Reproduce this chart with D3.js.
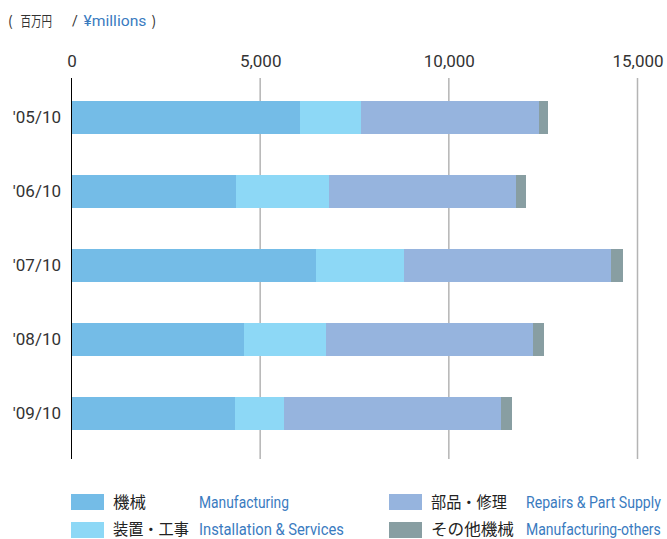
<!DOCTYPE html>
<html><head><meta charset="utf-8">
<script src="https://cdn.jsdelivr.net/npm/d3@7"></script>
<style>
html,body{margin:0;padding:0;background:#fff;}
svg{display:block;}
</style></head>
<body>
<svg id="chart" width="667" height="539"></svg>
<script>
// ---- data ----
const categories = ["'05/10", "'06/10", "'07/10", "'08/10", "'09/10"];
const manufacturing = [6055, 4359, 6479, 4571, 4333];
const installation  = [1617, 2465, 2332, 2173, 1298];
const repairs       = [4717, 4955, 5486, 5486, 5751];
const others        = [238, 265, 318, 291, 291];
const tickValues = [0, 5000, 10000, 15000];
const seriesKeys = ["manufacturing", "installation", "repairs", "others"];
const seriesJa = ["機械", "装置・工事", "部品・修理", "その他機械"];
const seriesEn = ["Manufacturing", "Installation & Services", "Repairs & Part Supply", "Manufacturing-others"];
const unitParts = ["(", "百万円", "/", "¥millions", ")"];

// ---- styles ----
const colors = {manufacturing:"#74bce7", installation:"#8dd8f6", repairs:"#96b4de", others:"#889ea2"};
const textColor = "#333";
const blue = "#3a7bbf";
const font = "Roboto, 'Noto Sans CJK JP', sans-serif";
const cjk = "'Noto Sans CJK JP', sans-serif";

const svg = d3.select("#chart");

// horizontally squeeze a text to a target width using a transform
function squeezedText(parent, str, x0, y0, family, size, color, width) {
  const g = parent.append("g").attr("transform", `translate(${x0},${y0})`);
  const te = g.append("text").attr("x",0).attr("y",0).attr("font-family",family)
    .attr("font-size",size).attr("fill",color).text(str);
  if (width) {
    const natural = te.node().getComputedTextLength();
    if (natural > 0) te.attr("transform", `scale(${width/natural},1)`);
  }
  return te;
}

const rows = categories.map((c,i)=>({cat:c, manufacturing:manufacturing[i], installation:installation[i], repairs:repairs[i], others:others[i]}));
const stacked = d3.stack().keys(seriesKeys)(rows);

const x = d3.scaleLinear().domain([0,15000]).range([71.5,637.5]);
const y = d3.scaleBand().domain(categories).range([80.5,450.5]).paddingInner(0.554).paddingOuter(0.277);

// unit title
const titleLayout = [
  {x:8, f:cjk, s:14, c:textColor, w:null},
  {x:20.5, f:cjk, s:14, c:textColor, w:31.5},
  {x:72, f:font, s:14, c:textColor, w:null},
  {x:83.5, f:font, s:14.5, c:blue, w:63},
  {x:151.5, f:cjk, s:14, c:textColor, w:null}
];
unitParts.forEach((p,i)=>{
  const L = titleLayout[i];
  squeezedText(svg, p, L.x, 26, L.f, L.s, L.c, L.w);
});

// grid lines
svg.append("g").selectAll("line").data(tickValues.filter(d=>d>0)).join("line")
  .attr("x1",d=>x(d)).attr("x2",d=>x(d)).attr("y1",78).attr("y2",459)
  .attr("stroke","#b4b4b4").attr("stroke-width",1.5);

// top axis
const axis = svg.append("g").attr("transform","translate(0,78)")
  .call(d3.axisTop(x).tickValues(tickValues).tickFormat(d3.format(",")).tickSize(0).tickPadding(11));
axis.select(".domain").remove();
axis.selectAll("text").attr("font-family",font).attr("font-size",17).attr("fill",textColor);

// bars
svg.append("g").selectAll("g").data(stacked).join("g")
  .attr("fill",d=>colors[d.key])
  .selectAll("rect").data(d=>d).join("rect")
  .attr("x",d=>x(d[0])).attr("width",d=>x(d[1])-x(d[0]))
  .attr("y",d=>y(d.data.cat)).attr("height",y.bandwidth())
  .attr("shape-rendering","crispEdges");

// zero line
svg.append("line").attr("x1",x(0)).attr("x2",x(0)).attr("y1",78).attr("y2",459)
  .attr("stroke","#000").attr("stroke-width",1);

// category labels
const yAxis = svg.append("g").attr("transform","translate(71,0)")
  .call(d3.axisLeft(y).tickSize(0).tickPadding(10));
yAxis.select(".domain").remove();
yAxis.selectAll("text").attr("font-family",font).attr("font-size",17).attr("fill",textColor);

// legend
const legendPos = [
  {sx:71, jx:113, ex:199, y:494},
  {sx:71, jx:113, ex:199, y:522},
  {sx:389, jx:431, ex:526, y:494},
  {sx:389, jx:431, ex:526, y:522}
];
const jaWidth = [33,76,76,83];
const enWidth = [90,145,135,135];
const lg = svg.append("g");
seriesKeys.forEach((k,i)=>{
  const p = legendPos[i];
  const base = i % 2 === 0 ? p.y + 14 : p.y + 13;
  lg.append("rect").attr("x",p.sx).attr("y",p.y).attr("width",33).attr("height",16).attr("fill",colors[k]);
  squeezedText(lg, seriesJa[i], p.jx, base, cjk, 16, "#222", jaWidth[i]);
  squeezedText(lg, seriesEn[i], p.ex, base, font, 16.5, blue, enWidth[i]);
});
</script>
</body></html>
